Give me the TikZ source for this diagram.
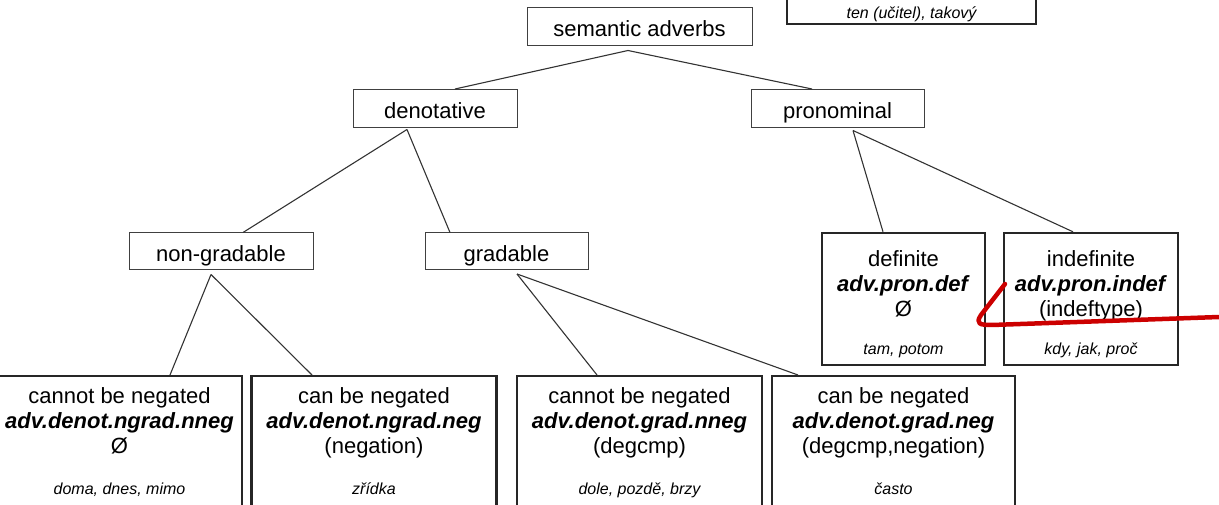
\documentclass[tikz,border=0pt]{standalone}
\usepackage{fontspec}
\setmainfont{Liberation Sans}
\newcommand\exfont{\fontsize{16}{19}\selectfont\itshape}
\newcommand\bi[1]{\textbf{\textit{#1}}}
\begin{document}
\begin{tikzpicture}[x=1pt,y=-1pt,
  thinbox/.style={draw=black!75, line width=1pt, fill=white, inner sep=0pt,
    text height=20pt, text depth=0pt, font=\fontsize{22}{25}\selectfont},
  thickbox/.style={draw=black!85, line width=2.4pt, fill=white, inner sep=0pt,
    align=center, font=\fontsize{22}{25}\selectfont},
  conn/.style={draw=black!80, line width=1.1pt},
  redline/.style={draw={rgb,255:red,204;green,0;blue,0}, line width=4.5pt, line cap=round, line join=round}]
\useasboundingbox (0,0) rectangle (1219,505);
\begin{scope}
\clip (0,0) rectangle (1219,505);
% top right clipped box
\node[thickbox, minimum width=249, anchor=south, text height=60pt, text depth=3.5pt, inner ysep=1.5pt] (ten) at (911.5,25) {\exfont ten (učitel), takový};
% level 0-2
\node[thinbox, minimum width=225, minimum height=38] (sem) at (639.5,27) {semantic adverbs};
\node[thinbox, minimum width=164, minimum height=38] (den) at (435,108.5) {denotative};
\node[thinbox, minimum width=173, minimum height=38] (pro) at (837.5,108.5) {pronominal};
\node[thinbox, minimum width=184, minimum height=37] (ngr) at (221,251.5) {non-gradable};
\node[thinbox, minimum width=163, minimum height=37] (gr) at (506.5,251.5) {gradable};
% pronominal leaves
\node[thickbox, minimum width=163, minimum height=132] (def) at (903.5,299)
  {\rule{0pt}{26pt}definite\\ \bi{adv.pron.def}\\ Ø\\[13pt] {\exfont tam, potom}};
\node[thickbox, minimum width=174, minimum height=132] (indef) at (1091,299)
  {\rule{0pt}{26pt}indefinite\\ \bi{adv.pron.indef}\\ (indeftype)\\[13pt] {\exfont kdy, jak, proč}};
% bottom leaves
\node[thickbox, minimum width=245, minimum height=160, anchor=north] (b1) at (119.5,375)
  {cannot be negated\\ \bi{adv.denot.ngrad.nneg}\\ Ø\\[16pt] {\exfont doma, dnes, mimo}\\[6pt] ~};
\node[thickbox, minimum width=245, minimum height=160, anchor=north] (b2) at (374,375)
  {can be negated\\ \bi{adv.denot.ngrad.neg}\\ (negation)\\[16pt] {\exfont zřídka}\\[6pt] ~};
\node[thickbox, minimum width=245, minimum height=160, anchor=north] (b3) at (639.5,375)
  {cannot be negated\\ \bi{adv.denot.grad.nneg}\\ (degcmp)\\[16pt] {\exfont dole, pozdě, brzy}\\[6pt] ~};
\node[thickbox, minimum width=243, minimum height=160, anchor=north] (b4) at (893.5,375)
  {can be negated\\ \bi{adv.denot.grad.neg}\\ (degcmp,negation)\\[16pt] {\exfont často}\\[6pt] ~};
% apex coordinates
\coordinate (semA) at ([xshift=-11.5pt,yshift=-4pt]sem.south);
\coordinate (denA) at ([xshift=-28pt,yshift=-1.5pt]den.south);
\coordinate (proA) at ([xshift=15.5pt,yshift=-2.5pt]pro.south);
\coordinate (ngrA) at ([xshift=-10pt,yshift=-4pt]ngr.south);
\coordinate (grA) at ([xshift=10.5pt,yshift=-3.5pt]gr.south);
% connectors
\draw[conn] (semA) -- ([xshift=20pt]den.north);
\draw[conn] (semA) -- ([xshift=-25.5pt]pro.north);
\draw[conn] (denA) -- ([xshift=22pt]ngr.north);
\draw[conn] (denA) -- ([xshift=-56.5pt]gr.north);
\draw[conn] (proA) -- ([xshift=-20.5pt]def.north);
\draw[conn] (proA) -- ([xshift=-18pt]indef.north);
\draw[conn] (ngrA) -- ([xshift=50.5pt]b1.north);
\draw[conn] (ngrA) -- ([xshift=-62pt]b2.north);
\draw[conn] (grA) -- ([xshift=-42.5pt]b3.north);
\draw[conn] (grA) -- ([xshift=-95.5pt]b4.north);
% red annotation stroke
\draw[redline] (1005,284) -- (981,315) .. controls (975,324) and (980,325) .. (992,325) -- (1219,317);
\end{scope}
\end{tikzpicture}
\end{document}
